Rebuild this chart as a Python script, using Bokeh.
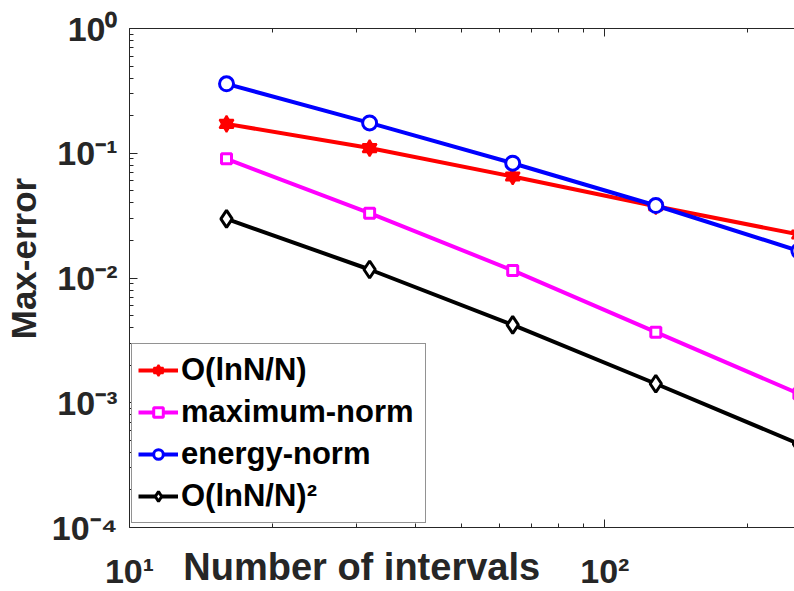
from bokeh.plotting import figure
from bokeh.models import (Range1d, LogAxis, FixedTicker, CustomJSTickFormatter,
                          Legend, LegendItem)
from bokeh.embed import file_html
from bokeh.resources import INLINE

# ---------------- data ----------------
N = [16, 32, 64, 128, 256]
err_lnN = [0.172, 0.110, 0.0651, 0.0376, 0.0223]          # O(lnN/N)
err_max = [0.0902, 0.0331, 0.0115, 0.00368, 0.00118]      # maximum-norm
err_energy = [0.360, 0.175, 0.0832, 0.0381, 0.0165]       # energy-norm
err_lnN2 = [0.0298, 0.0117, 0.00421, 0.00142, 0.000468]   # O(lnN/N)^2

series_names = ["O(lnN/N)", "maximum-norm", "energy-norm", "O(lnN/N)²"]
x_tick_exps = [1, 2]
x_tick_labels = ["10¹", "10²"]
y_tick_exps = [-4, -3, -2, -1, 0]
y_tick_labels = ["10⁻⁴", "10⁻³", "10⁻²", "10⁻¹", "10⁰"]
x_label = "Number of intervals"
y_label = "Max-error"

FONT = "Liberation Sans"
AX = "#262626"
NBSP = "\u00a0"

x_major = [10.0 ** e for e in x_tick_exps]
x_minor = [m * 10.0 ** e for e in x_tick_exps for m in range(2, 10)]
y_major = [10.0 ** e for e in y_tick_exps]
y_minor = [m * 10.0 ** e for e in y_tick_exps[:-1] for m in range(2, 10)]


def fmt(exps, labels):
    return CustomJSTickFormatter(args=dict(exps=exps, labels=labels), code="""
const e = Math.round(Math.log10(tick));
const i = exps.indexOf(e);
return i >= 0 ? labels[i] : "";
""")


p = figure(width=794, height=591, x_axis_type="log", y_axis_type="log",
           x_range=Range1d(10, 250.6), y_range=Range1d(1e-4, 1),
           output_backend="svg", toolbar_location=None,
           min_border_left=128, min_border_right=0, min_border_top=28,
           min_border_bottom=64)
p.grid.visible = False
p.outline_line_color = None
p.background_fill_color = "white"
p.border_fill_color = "white"


def style_axis(ax, ticker, formatter, standoff):
    ax.ticker = ticker
    ax.formatter = formatter
    ax.axis_line_color = AX
    ax.axis_line_width = 1
    ax.major_tick_line_color = AX
    ax.minor_tick_line_color = AX
    ax.major_tick_in = 8
    ax.major_tick_out = 0
    ax.minor_tick_in = 4
    ax.minor_tick_out = 0
    ax.major_label_text_font = FONT
    ax.major_label_text_font_style = "bold"
    ax.major_label_text_font_size = "34px"
    ax.major_label_text_color = AX
    ax.major_label_standoff = standoff
    ax.axis_label_text_font = FONT
    ax.axis_label_text_font_style = "bold"
    ax.axis_label_text_font_size = "38px"
    ax.axis_label_text_color = AX


xt = FixedTicker(ticks=x_major, minor_ticks=x_minor)
yt = FixedTicker(ticks=y_major, minor_ticks=y_minor)

xa = p.xaxis[0]
style_axis(xa, xt, fmt(x_tick_exps, x_tick_labels), 24)
# trailing no-break spaces shift the centred title left, as in the original
xa.axis_label = x_label + NBSP * 19
xa.axis_label_standoff = -47

ya = p.yaxis[0]
style_axis(ya, yt, fmt(y_tick_exps, y_tick_labels), 12)
ya.axis_label = NBSP * 4 + y_label
ya.axis_label_text_font_size = "35px"
ya.axis_label_standoff = 6

top = LogAxis()
style_axis(top, FixedTicker(ticks=x_major, minor_ticks=x_minor),
           fmt([], []), 0)
top.major_label_text_font_size = "0px"
p.add_layout(top, "above")

# ---------------- series ----------------
lw = 4
r1 = p.line(N, err_lnN, line_color="#FF0000", line_width=lw)
r1a = p.scatter(N, err_lnN, marker="triangle", size=14, line_color="#FF0000",
                fill_color="#FF0000", line_width=2)
r1b = p.scatter(N, err_lnN, marker="inverted_triangle", size=14,
                line_color="#FF0000", fill_color="#FF0000", line_width=2)

r2 = p.line(N, err_max, line_color="#FF00FF", line_width=lw)
r2a = p.scatter(N, err_max, marker="square", size=10, line_color="#FF00FF",
                fill_color="white", line_width=3)

r3 = p.line(N, err_energy, line_color="#0000FF", line_width=lw)
r3a = p.scatter(N, err_energy, marker="circle", size=14, line_color="#0000FF",
                fill_color="white", line_width=3)

r4 = p.line(N, err_lnN2, line_color="black", line_width=lw)
r4a = p.scatter(N, err_lnN2, marker="diamond", size=17, line_color="black",
                fill_color="white", line_width=3)

legend = Legend(items=[
    LegendItem(label=series_names[0], renderers=[r1, r1a, r1b]),
    LegendItem(label=series_names[1], renderers=[r2, r2a]),
    LegendItem(label=series_names[2], renderers=[r3, r3a]),
    LegendItem(label=series_names[3], renderers=[r4, r4a]),
], location=(2, 4), orientation="vertical",
    label_text_font=FONT, label_text_font_style="bold",
    label_text_font_size="31px", label_text_color="black",
    glyph_width=40, glyph_height=24, label_height=40, label_width=238,
    label_standoff=3, spacing=2, padding=6, margin=0,
    border_line_color=AX, border_line_width=1,
    background_fill_color="white", background_fill_alpha=1)
p.add_layout(legend, "center")

open("out.html", "w").write(file_html(p, INLINE))
